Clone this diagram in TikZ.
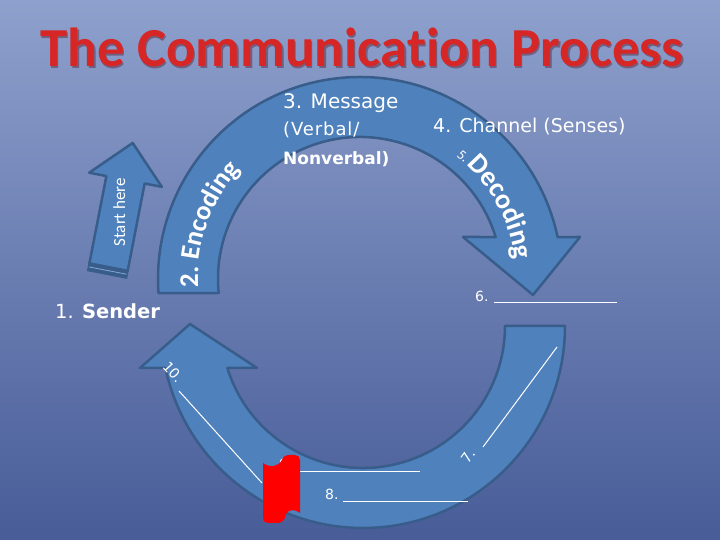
\documentclass[tikz,border=0pt]{standalone}
\usepackage{fontspec}
\newfontfamily\carlito{Carlito}[Ligatures=NoCommon]
\newfontfamily\dejavu{DejaVu Sans}
\usetikzlibrary{decorations.text}
\definecolor{bgtop}{RGB}{142,160,204}
\definecolor{bgbot}{RGB}{72,92,152}
\definecolor{band}{RGB}{79,129,189}
\definecolor{bandline}{RGB}{56,93,138}
\definecolor{titlered}{RGB}{214,38,38}
\definecolor{titleshadow}{RGB}{90,40,60}
\newcommand\encfont{\carlito\bfseries\fontsize{27}{32}\selectfont}
\newcommand\decfont{\carlito\bfseries\fontsize{28}{32}\selectfont}
\newcommand\smallnum{\carlito\fontsize{14}{16}\selectfont}
\tikzset{
  bandshape/.style={fill=band, draw=bandline, line width=2.5pt, line join=round},
  lbl/.style={text=white, inner sep=0pt},
  blank/.style={draw=white, line width=1pt},
}
\begin{document}
\begin{tikzpicture}[x=1pt,y=1pt]
\shade[top color=bgtop,bottom color=bgbot] (0,0) rectangle (720,540);
\useasboundingbox (0,0) rectangle (720,540);

% title
\node[anchor=base, inner sep=0pt, text=titleshadow, opacity=0.5] (titlesh) at (363.5,471.5) {\carlito\bfseries\fontsize{55}{60}\selectfont The Communication Process};
\node[anchor=base, inner sep=0pt, text=titlered] (title) at (362,473) {\carlito\bfseries\fontsize{55}{60}\selectfont The Communication Process};

% top arc arrow
\begin{scope}[shift={(360,261)}]
  \draw[bandshape] (184:202) arc[start angle=184, end angle=11.99, radius=202]
    -- (220,42) -- (173,-16) -- (103,42) -- (17.2:142)
    arc[start angle=17.2, end angle=185.66, radius=142] -- cycle;
  \path[decorate, decoration={text along path, text color=white,
     text={|\encfont|2. Encoding}}]
     (183:162) arc[start angle=183, end angle=115, radius=162];
  \path[decorate, decoration={text along path, text color=white,
     text={|\smallnum|5. |\decfont|Decoding}}]
     (52:156) arc[start angle=52, end angle=-5, radius=156];
\end{scope}

% bottom arc arrow
\begin{scope}[shift={(363,214)}]
  \draw[bandshape] (0:202) arc[start angle=0, end angle=-168, radius=202]
    -- (-223,-42) -- (-173,2) -- (-106,-42) -- (-162.8:142)
    arc[start angle=-162.8, end angle=0, radius=142] -- cycle;
\end{scope}

% start here arrow
\begin{scope}[shift={(107,265)}, rotate=-11]
  \draw[bandshape] (-19.5,8) -- (-19.5,97) -- (-37,97) -- (0,134.5) -- (37,97)
     -- (19.5,97) -- (19.5,8) -- cycle;
  \fill[bandline] (-20.5,0) rectangle (20.5,9);
  \draw[band!70!white, line width=0.8pt] (-19,4.5) -- (19,4.5);
  \node[lbl, rotate=90] (start) at (0,64) {\carlito\fontsize{17}{20}\selectfont Start here};
\end{scope}

% texts
\node[lbl, anchor=base west] (msg1) at (283,431) {\dejavu\fontsize{20}{24}\selectfont 3. Message};
\node[lbl, anchor=base west] (msg2) at (283,404) {\dejavu\fontsize{18}{22}\selectfont\addfontfeature{LetterSpace=5}(Verbal/};
\node[lbl, anchor=base west] (msg3) at (283,375) {\dejavu\bfseries\fontsize{17}{20}\selectfont Nonverbal)};
\node[lbl, anchor=base west] (chan) at (433,407) {\dejavu\fontsize{19}{22}\selectfont 4. Channel (Senses)};
\node[lbl, anchor=base west] (sender) at (55,221) {\dejavu\fontsize{19.5}{23}\selectfont 1. \bfseries Sender};

\node[lbl, anchor=base west] (six) at (475,238) {\dejavu\fontsize{14}{16}\selectfont 6.};
\coordinate (s6a) at (494,237); \coordinate (s6b) at (617,237);
\draw[blank] (s6a) -- (s6b);

\node[lbl, anchor=base west] (eight) at (325,40) {\dejavu\fontsize{14}{16}\selectfont 8.};
\coordinate (s8a) at (343,38); \coordinate (s8b) at (468,38);
\draw[blank] (s8a) -- (s8b);

\node[lbl, anchor=base west] (nine) at (279,70) {\dejavu\fontsize{14}{16}\selectfont 9.};
\coordinate (s9a) at (300,68); \coordinate (s9b) at (420,68);
\draw[blank] (s9a) -- (s9b);

\node[lbl, rotate=-48] (tenlbl) at (173,168) {\dejavu\fontsize{14}{16}\selectfont 10.};
\coordinate (s10a) at (179,149); \coordinate (s10b) at (262,57);
\draw[blank] (s10a) -- (s10b);

\node[lbl, rotate=54] (seven) at (468,84) {\dejavu\fontsize{14}{16}\selectfont 7.};
\coordinate (s7a) at (483,93); \coordinate (s7b) at (557,193);
\draw[blank] (s7a) -- (s7b);

% red flag shape
\fill[red] (263,77) .. controls (270,72) and (278,73) .. (282,80)
  .. controls (283,84) and (286,85) .. (290,85) -- (295,85)
  .. controls (298,85) and (300,83) .. (300,80) -- (300,27)
  .. controls (295,31) and (289,31) .. (286,26)
  .. controls (285,20) and (282,17) .. (277,17) -- (268,17)
  .. controls (265,17) and (263,19) .. (263,22) -- cycle;
\end{tikzpicture}
\end{document}
